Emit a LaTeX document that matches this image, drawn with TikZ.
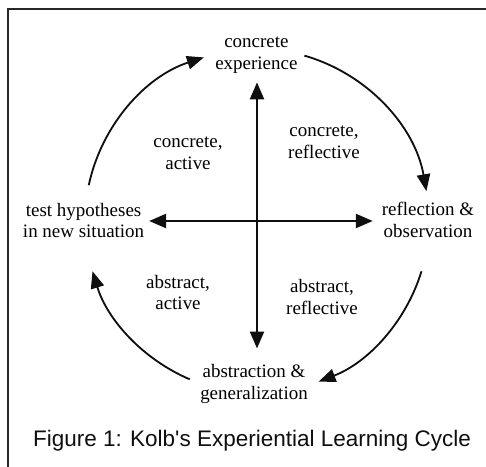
\documentclass[tikz,border=0pt]{standalone}
\usepackage{fontspec}
\setmainfont{Liberation Serif}
\newfontfamily\captionfont{Liberation Sans}
\usetikzlibrary{arrows.meta}
\definecolor{inkBlack}{RGB}{15,15,15}
\definecolor{frameGray}{RGB}{40,40,40}

\begin{document}
\begin{tikzpicture}[
  stage/.style={align=center,font=\fontsize{13.5}{15.5}\selectfont},
  quad/.style={align=center,font=\fontsize{13.5}{15.5}\selectfont},
  axis/.style={{Triangle[length=12pt,width=10pt]}-{Triangle[length=12pt,width=10pt]},line width=1.4pt,draw=inkBlack},
  cyc/.style={-{Triangle[length=12pt,width=9.5pt]},line width=1.3pt,draw=inkBlack}]
\useasboundingbox (0,0) rectangle (12.15,11.675);
% Frame
\draw[frameGray,line width=1.2pt] (0.2,-1) rectangle (13,11.45);

% Centre of the cycle
\coordinate (hub) at (6.425,6.15);

% Stages
\node[stage] (conc) at (6.41,10.3) {concrete\\experience};
\node[stage] (refl) at (10.7,6.18) {reflection \&\\observation};
\node[stage] (abst) at (6.35,2.07) {abstraction \&\\generalization};
\node[stage] (test) at (2.09,6.16) {test hypotheses\\in new situation};

% Axes
\draw[axis,shorten <=8pt,shorten >=3pt] (abst.north -| hub) -- (conc.south -| hub);
\draw[axis,shorten >=3pt] (test.east |- hub) -- (refl.west |- hub);

% Cycle
\draw[cyc] ([shift={(168:4.3)}]hub) arc[start angle=168,end angle=108,radius=4.3];
\draw[cyc] ([shift={(74:4.3)}]hub) arc[start angle=74,end angle=10,radius=4.3];
\draw[cyc] ([shift={(-17:4.3)}]hub) arc[start angle=-17,end angle=-69,radius=4.3];
\draw[cyc] ([shift={(-113:4.3)}]hub) arc[start angle=-113,end angle=-163,radius=4.3];

% Quadrants
\node[quad] (ca) at (4.7,7.85) {concrete,\\active};
\node[quad] (cr) at (8.1,8.11) {concrete,\\reflective};
\node[quad] (aa) at (4.45,4.36) {abstract,\\active};
\node[quad] (ar) at (8.05,4.24) {abstract,\\reflective};

% Caption
\node[anchor=base,font=\captionfont\fontsize{16}{19}\selectfont,text=inkBlack] (cap) at (6.3,0.5)
  {Figure 1: Kolb's Experiential Learning Cycle};
\end{tikzpicture}
\end{document}
